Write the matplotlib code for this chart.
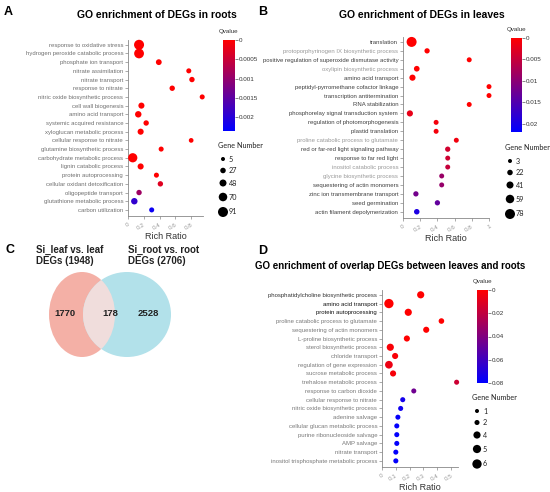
"""
GO enrichment dot plots + Venn diagram of DEGs
"""

import numpy as np
import matplotlib
matplotlib.use("Agg")
import matplotlib.pyplot as plt
from matplotlib.colors import LinearSegmentedColormap, Normalize
from matplotlib.cm import ScalarMappable
from matplotlib.patches import Ellipse

plt.rcParams["font.family"] = ["Liberation Sans", "DejaVu Sans"]

# ==========================================
# Data
# ==========================================

roots_terms = [
    "response to oxidative stress", "hydrogen peroxide catabolic process",
    "phosphate ion transport", "nitrate assimilation", "nitrate transport",
    "response to nitrate", "nitric oxide biosynthetic process",
    "cell wall biogenesis", "amino acid transport",
    "systemic acquired resistance", "xyloglucan metabolic process",
    "cellular response to nitrate", "glutamine biosynthetic process",
    "carbohydrate metabolic process", "lignin catabolic process",
    "protein autoprocessing", "cellular oxidant detoxification",
    "oligopeptide transport", "glutathione metabolic process",
    "carbon utilization",
]
roots_ratio = [0.14, 0.14, 0.39, 0.77, 0.81, 0.56, 0.94, 0.17, 0.13, 0.23,
               0.16, 0.80, 0.42, 0.06, 0.16, 0.36, 0.41, 0.14, 0.08, 0.30]
roots_q = [0, 0, 0, 0, 0, 0, 0, 0, 0, 0,
           0, 0, 0, 0, 0, 0, 0.0003, 0.0009, 0.0019, 0.00225]
roots_genes = [91, 88, 31, 20, 25, 25, 20, 35, 40, 25,
               35, 15, 20, 80, 35, 20, 25, 25, 40, 20]
roots_size_legend = [5, 27, 48, 70, 91]
roots_q_ticks = [0, 0.0005, 0.001, 0.0015, 0.002]

leaves_terms = [
    "translation", "protoporphyrinogen IX biosynthetic process",
    "positive regulation of superoxide dismutase activity",
    "oxylipin biosynthetic process", "amino acid transport",
    "peptidyl-pyrromethane cofactor linkage", "transcription antitermination",
    "RNA stabilization", "phosphorelay signal transduction system",
    "regulation of photomorphogenesis", "plastid translation",
    "proline catabolic process to glutamate",
    "red or far-red light signaling pathway", "response to far red light",
    "inositol catabolic process", "glycine biosynthetic process",
    "sequestering of actin monomers", "zinc ion transmembrane transport",
    "seed germination", "actin filament depolymerization",
]
leaves_ratio = [0.10, 0.28, 0.77, 0.16, 0.11, 1.0, 1.0, 0.77, 0.08, 0.385,
                0.385, 0.62, 0.52, 0.52, 0.52, 0.45, 0.45, 0.15, 0.40, 0.16]
leaves_q = [0, 0, 0, 0, 0, 0, 0, 0, 0.002, 0.001,
            0.001, 0.0012, 0.004, 0.0042, 0.005, 0.0088, 0.009, 0.012, 0.0135, 0.0195]
leaves_genes = [78, 19, 15, 24, 30, 15, 15, 15, 30, 15,
                15, 15, 19, 15, 15, 15, 15, 19, 19, 22]
leaves_size_legend = [3, 22, 41, 59, 78]
leaves_q_ticks = [0, 0.005, 0.01, 0.015, 0.02]

overlap_terms = [
    "phosphatidylcholine biosynthetic process", "amino acid transport",
    "protein autoprocessing", "proline catabolic process to glutamate",
    "sequestering of actin monomers", "L-proline biosynthetic process",
    "sterol biosynthetic process", "chloride transport",
    "regulation of gene expression", "sucrose metabolic process",
    "trehalose metabolic process", "response to carbon dioxide",
    "cellular response to nitrate", "nitric oxide biosynthetic process",
    "adenine salvage", "cellular glucan metabolic process",
    "purine ribonucleoside salvage", "AMP salvage", "nitrate transport",
    "inositol trisphosphate metabolic process",
]
overlap_ratio = [0.28, 0.05, 0.19, 0.43, 0.32, 0.18, 0.06, 0.095, 0.05, 0.08,
                 0.54, 0.23, 0.15, 0.135, 0.115, 0.107, 0.107, 0.107, 0.10, 0.10]
overlap_q = [0, 0, 0, 0, 0, 0, 0.002, 0.002, 0.006, 0.003,
             0.016, 0.045, 0.074, 0.075, 0.078, 0.079, 0.079, 0.079, 0.079, 0.079]
overlap_genes = [4, 6, 4, 2.5, 3, 3, 4, 3, 4.5, 3,
                 2, 2, 2, 2, 2, 2, 2, 2, 2, 2]
overlap_size_legend = [1, 2, 4, 5, 6]
overlap_q_ticks = [0, 0.02, 0.04, 0.06, 0.08]

venn_sets = ["Si_leaf vs. leaf\nDEGs (1948)", "Si_root vs. root\nDEGs (2706)"]
venn_counts = [1770, 178, 2528]

# ==========================================
# Figure helpers
# ==========================================

W, H = 550, 492
fig = plt.figure(figsize=(5.5, 4.92), dpi=100)

ov = fig.add_axes([0, 0, 1, 1])
ov.set_xlim(0, W)
ov.set_ylim(H, 0)
ov.axis("off")

cmap = LinearSegmentedColormap.from_list("q", ["#ff0000", "#0000ff"])


def box(x0, y0, x1, y1):
    return [x0 / W, 1 - y1 / H, (x1 - x0) / W, (y1 - y0) / H]


def dot_size(values, legend, dmin, dmax):
    v = np.asarray(values, dtype=float)
    d = dmin + (dmax - dmin) * (v - legend[0]) / (legend[-1] - legend[0])
    d_pt = d * 0.72
    return d_pt ** 2


def dot_panel(rect, terms, ratio, q, genes, xmax, xticks, qmax, qticks,
              legend, dmax, label_colors, cbar_rect, leg_xy):
    ax = fig.add_axes(box(*rect))
    n = len(terms)
    y = np.arange(n)[::-1]
    ax.scatter(ratio, y, s=dot_size(genes, legend, 4.0, dmax), c=q,
               cmap=cmap, vmin=0, vmax=qmax, edgecolors="none",
               clip_on=False, zorder=3)
    ax.set_xlim(0, xmax)
    ax.set_ylim(-0.7, n - 0.45)
    ax.set_yticks(y)
    ax.set_yticklabels(terms, fontsize=4.3)
    for lab, col in zip(ax.get_yticklabels(), label_colors):
        lab.set_color(col)
    ax.set_xticks(xticks)
    ax.set_xticklabels([f"{t:g}" for t in xticks], fontsize=4.5,
                       color="#9a9a9a", rotation=30, ha="right",
                       rotation_mode="anchor")
    ax.tick_params(length=2, width=0.5, color="#888888", pad=1.5)
    ax.tick_params(axis="x", pad=2.5)
    for side in ["top", "right"]:
        ax.spines[side].set_visible(False)
    for side in ["left", "bottom"]:
        ax.spines[side].set_color("#888888")
        ax.spines[side].set_linewidth(0.6)
    ax.set_xlabel("Rich Ratio", fontsize=6.5, color="#333333", labelpad=1)

    # colorbar
    cax = fig.add_axes(box(*cbar_rect))
    cb = fig.colorbar(ScalarMappable(norm=Normalize(0, qmax), cmap=cmap),
                      cax=cax, ticks=qticks)
    cb.ax.invert_yaxis()
    cb.outline.set_visible(False)
    cb.ax.set_yticklabels([f"{t:g}" for t in qticks], fontsize=4.5,
                          color="#333333")
    cb.ax.tick_params(length=2, width=0.5, color="#555555", pad=1)
    ov.text((cbar_rect[0] + cbar_rect[2]) / 2, cbar_rect[1] - 6, "Qvalue",
            fontsize=4.5, color="#333333", ha="center", va="bottom")

    # gene number legend
    lx, ly = leg_xy
    ov.text(lx - 5, ly, "Gene Number", fontsize=5.2, color="#222222",
            ha="left", va="center", family=["Lato", "DejaVu Sans"])
    gaps = [13, 11.5, 12.5, 14, 15]
    yy = ly
    for val, g in zip(legend, gaps):
        yy += g
        ov.scatter([lx], [yy], s=dot_size([val], legend, 4.0, dmax),
                   color="black", edgecolors="none")
        ov.text(lx + 6, yy, f"{val:g}", fontsize=5.2, color="#222222",
                ha="left", va="center", family=["Lato", "DejaVu Sans"])
    return ax


# ==========================================
# Panel A: roots
# ==========================================

dot_panel((128, 40, 203, 216), roots_terms, roots_ratio, roots_q, roots_genes,
          0.95, [0, 0.2, 0.4, 0.6, 0.8], 0.00236, roots_q_ticks,
          roots_size_legend, 10.0, ["#707070"] * len(roots_terms),
          (223, 40, 235, 131), (223, 146))

# ==========================================
# Panel B: leaves
# ==========================================

dark, light = "#404040", "#9a9a9a"
leaves_colors = [dark, light, dark, light, dark, dark, dark, dark, dark, dark,
                 dark, light, dark, dark, light, light, dark, dark, dark, dark]
dot_panel((403, 37, 489, 218), leaves_terms, leaves_ratio, leaves_q,
          leaves_genes, 1.0, [0, 0.2, 0.4, 0.6, 0.8, 1.0], 0.0219,
          leaves_q_ticks, leaves_size_legend, 10.0, leaves_colors,
          (511, 38, 522, 132), (510, 148))

# ==========================================
# Panel D: overlap
# ==========================================

overlap_colors = ["#333333", "#111111", "#111111"] + ["#7a7a7a"] * 17
dot_panel((382, 290, 458, 467), overlap_terms, overlap_ratio, overlap_q,
          overlap_genes, 0.55, [0, 0.1, 0.2, 0.3, 0.4, 0.5], 0.08,
          overlap_q_ticks, overlap_size_legend, 9.3, overlap_colors,
          (477, 290, 488, 383), (477, 398))

# ==========================================
# Panel C: Venn
# ==========================================

left = Ellipse((82, 314.5), 66, 85, facecolor="#f4b0a6", edgecolor="none")
right = Ellipse((127, 314.5), 88, 85, facecolor="#b2e1ea", edgecolor="none")
mid = Ellipse((127, 314.5), 88, 85, facecolor="#f0dddc", edgecolor="none")
ov.add_patch(left)
ov.add_patch(right)
ov.add_patch(mid)
mid.set_clip_path(left)

for x, c in zip([64.5, 110, 148], venn_counts):
    ov.text(x, 314, str(c), fontsize=6.8, fontweight="bold", color="#222222",
            ha="center", va="center")
for x, s in zip([36, 128], venn_sets):
    ov.text(x, 245, s, fontsize=7, fontweight="bold", color="#222222",
            ha="left", va="top", linespacing=1.15)

# ==========================================
# Titles and panel letters
# ==========================================

ov.text(157, 15, "GO enrichment of DEGs in roots", fontsize=7.5,
        fontweight="bold", ha="center", va="center")
ov.text(422, 15, "GO enrichment of DEGs in leaves", fontsize=7.5,
        fontweight="bold", ha="center", va="center")
ov.text(390, 266, "GO enrichment of overlap DEGs between leaves and roots",
        fontsize=7, fontweight="bold", ha="center", va="center")

for x, y, s in [(4, 12, "A"), (258, 12, "B"), (6, 250, "C"), (258, 251, "D")]:
    ov.text(x, y, s, fontsize=9, fontweight="bold", ha="left", va="center")

fig.savefig("out.png", dpi=100)
